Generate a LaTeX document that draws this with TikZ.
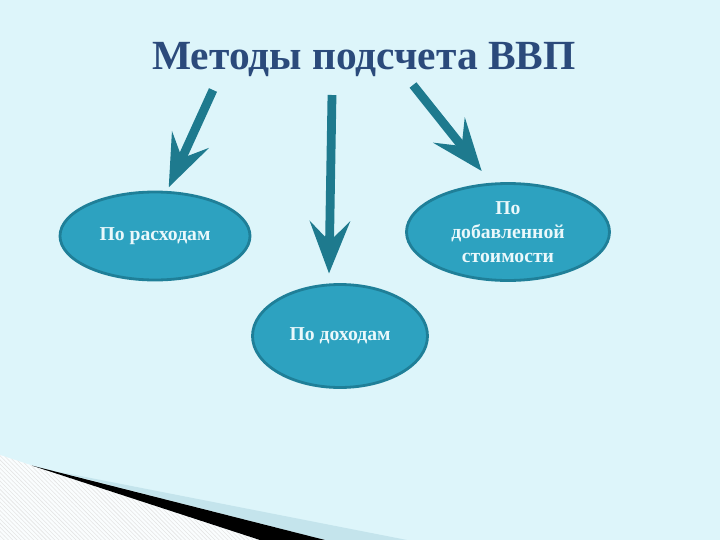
\documentclass[tikz,border=0pt]{standalone}
\usepackage{fontspec}
\setmainfont{Liberation Serif}
\usetikzlibrary{shapes,arrows.meta,positioning,patterns}
\definecolor{slidebg}{HTML}{DDF5FA}
\definecolor{titleblue}{HTML}{2B4A7B}
\definecolor{ovalfill}{HTML}{2DA2C0}
\definecolor{ovaldraw}{HTML}{1F7F98}
\definecolor{arrowteal}{HTML}{1E7A8E}
\definecolor{ovaltext}{HTML}{EAF8FB}
\definecolor{bandblue}{HTML}{C4E4EC}
\tikzset{
  method/.style={draw=ovaldraw, line width=2pt, ellipse, fill=ovalfill, text=ovaltext, font=\fontsize{14}{17}\selectfont\bfseries, align=center, inner sep=0pt},
  bigarrow/.style={-{Stealth[length=1.3cm, width=1.0cm, inset=0.5cm]}, arrowteal, line width=0.22cm}
}
\begin{document}
\begin{tikzpicture}
\useasboundingbox (0,0) rectangle (18,-13.5);
\fill[slidebg] (0,0) rectangle (18,-13.5);
%============ corner decoration
\fill[white!85!slidebg] (0,-11.375) -- (6.5,-13.5) -- (0,-13.5) -- cycle;
\fill[pattern=north west lines, pattern color=gray!20] (0,-11.375) -- (6.5,-13.5) -- (0,-13.5) -- cycle;
\fill[bandblue] (1.5,-11.8) -- (10.175,-13.5) -- (8.125,-13.5) -- cycle;
\fill[black] (0.8,-11.64) -- (8.125,-13.5) -- (6.5,-13.5) -- cycle;
%============ title and methods
\node[text=titleblue, font=\fontsize{29.5}{34}\selectfont\bfseries] (title) at (9.1,-1.5) {Методы подсчета ВВП};
\node[method, minimum width=4.75cm, minimum height=2.2cm] (spend) at (3.875,-5.9) {По расходам};
\node[method, minimum width=4.375cm, minimum height=2.575cm] (income) at (8.5,-8.4) {По доходам};
\node[method, minimum width=5.075cm, minimum height=2.425cm] (value) at (12.7,-5.8) {По\\добавленной\\стоимости};
%============ arrows
\coordinate (a1) at (5.325,-2.25);
\coordinate (a2) at (8.3,-2.375);
\coordinate (a3) at (10.325,-2.125);
\draw[bigarrow, shorten >=0.1cm] (a1) -- (spend.75);
\draw[bigarrow, shorten >=0.25cm] (a2) -- (income.102);
\draw[bigarrow, shorten >=0.375cm] (a3) -- (value.109);
\end{tikzpicture}
\end{document}
